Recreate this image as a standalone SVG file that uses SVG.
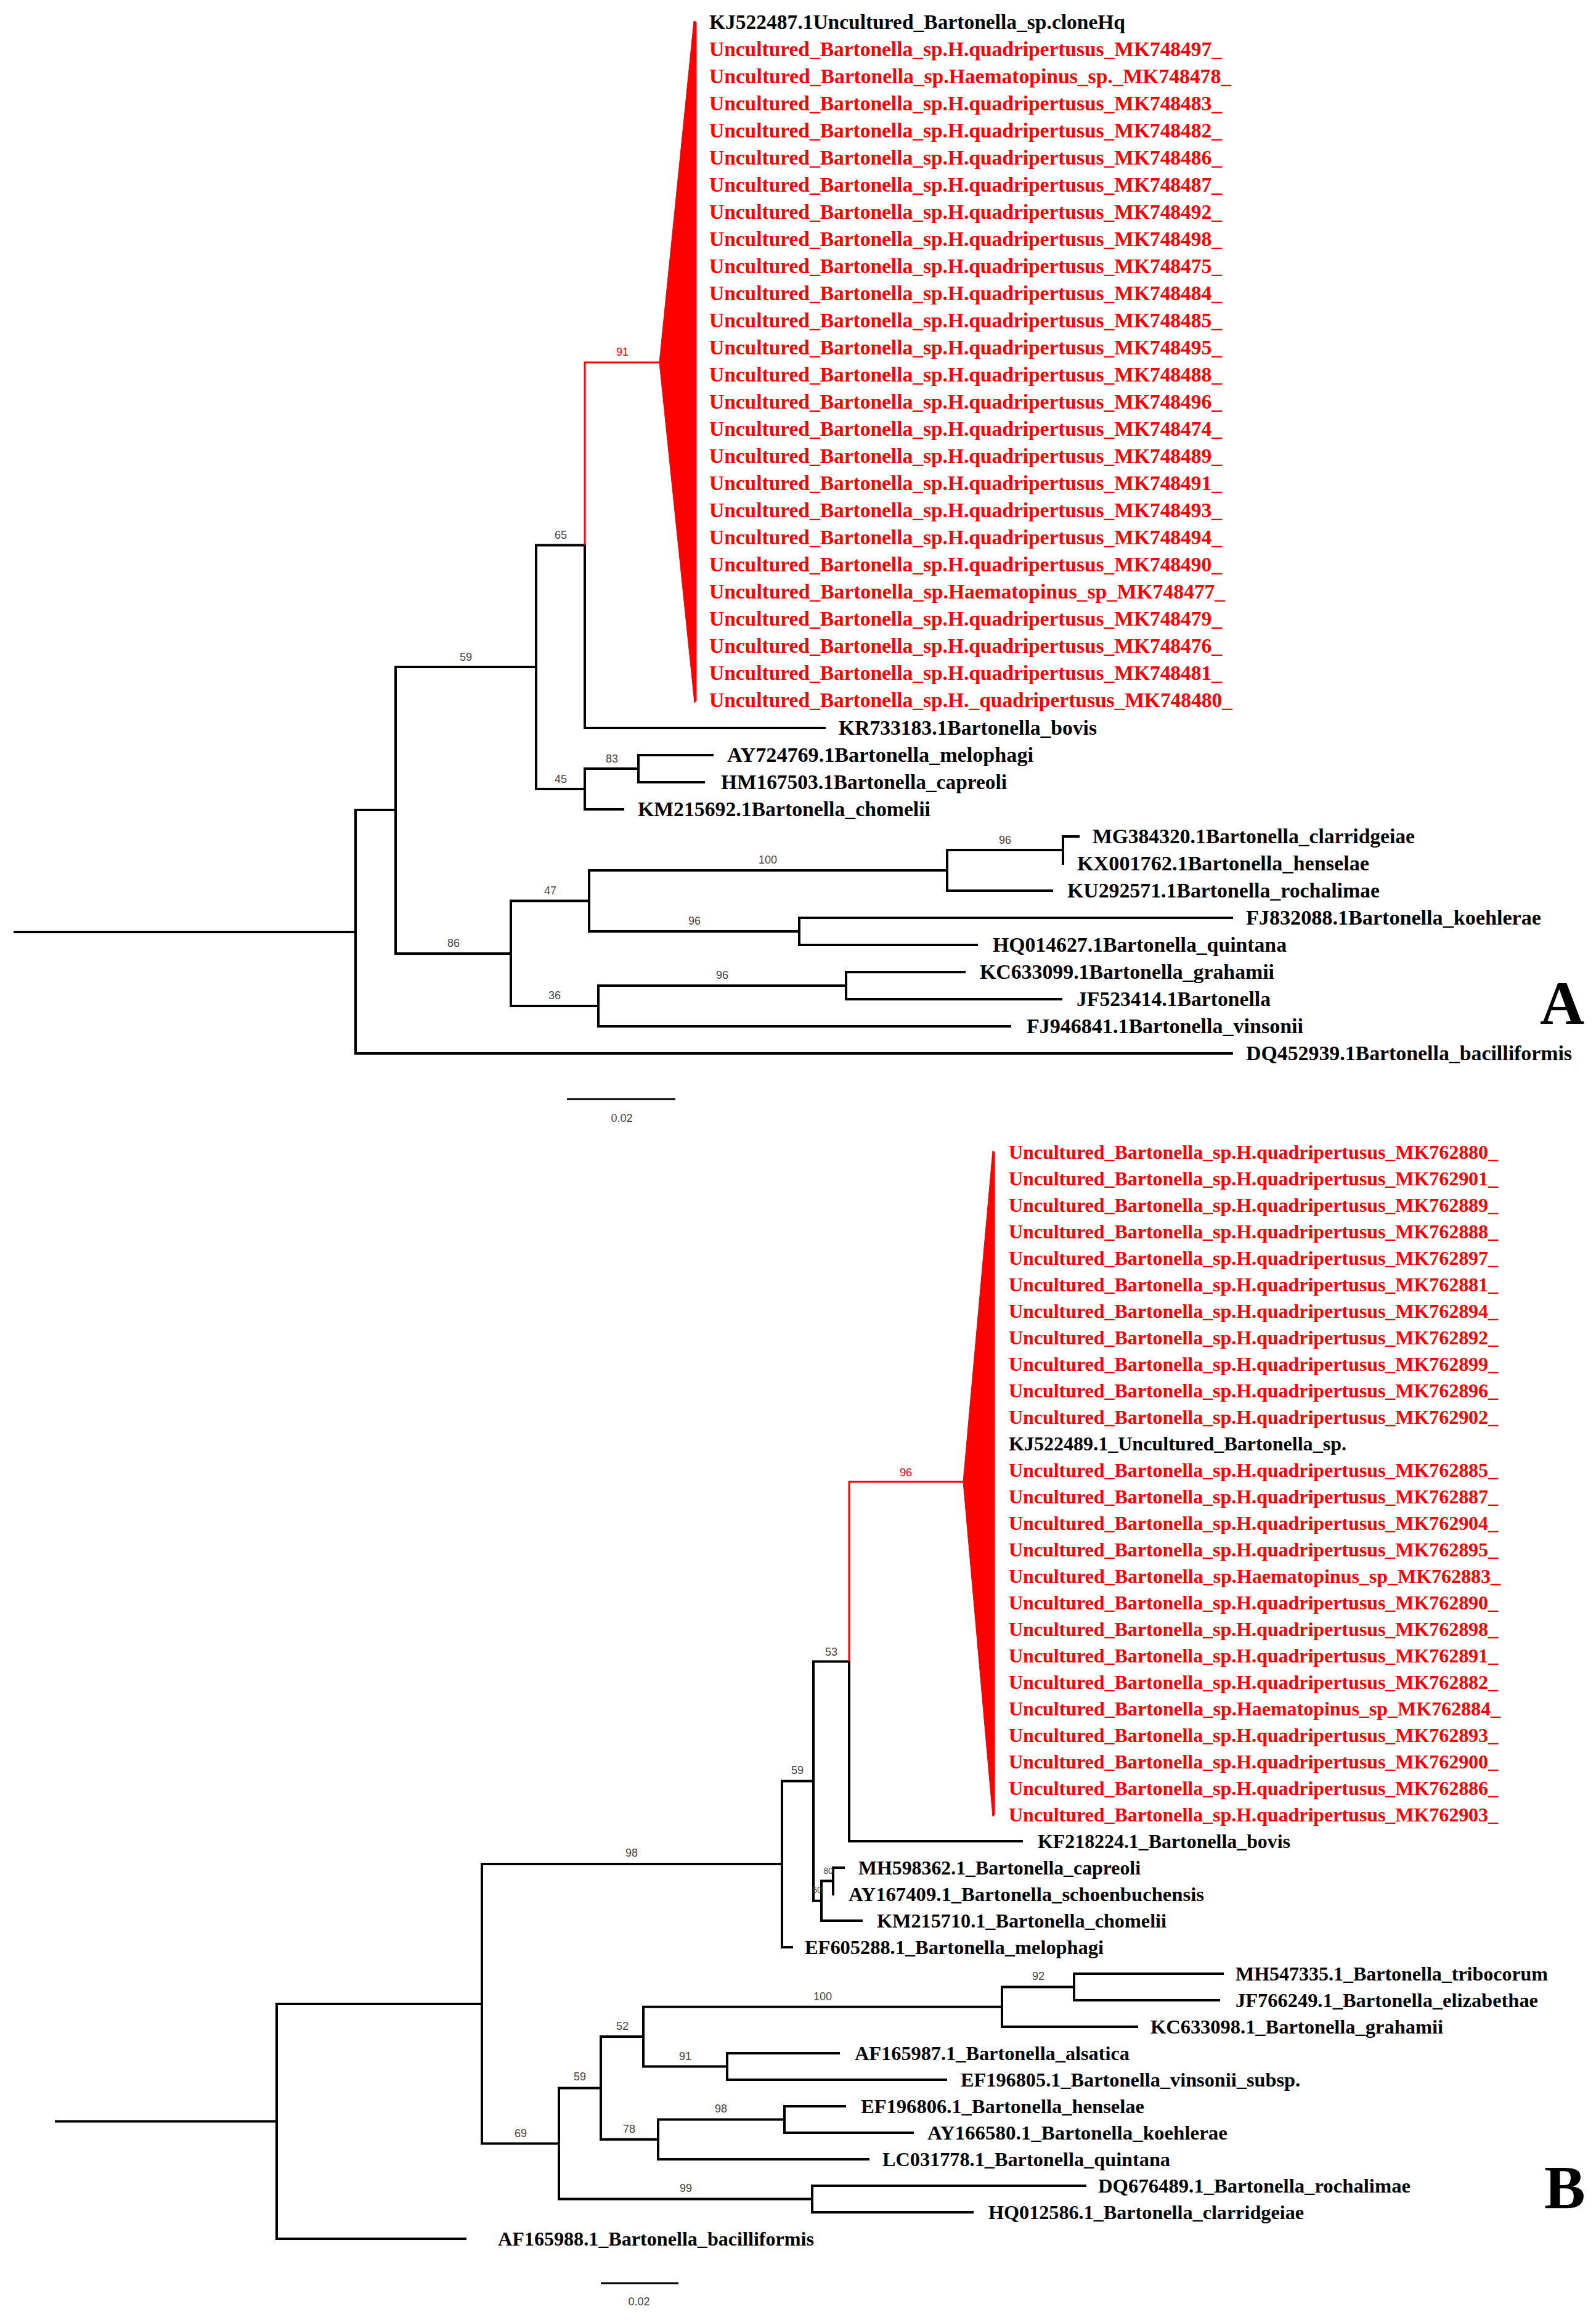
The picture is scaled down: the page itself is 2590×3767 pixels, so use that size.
<svg xmlns="http://www.w3.org/2000/svg" width="2590" height="3767" viewBox="0 0 2590 3767">
<style>
.br{fill:none;stroke:#000;stroke-width:4;stroke-linecap:square}
.brr{fill:none;stroke:#f00;stroke-width:3;stroke-linecap:square}
.tri{fill:#f00;stroke:#f00;stroke-width:1}
.tip{font-family:"Liberation Serif","Times New Roman",serif;font-weight:bold;fill:#000}
.ta{font-size:33px}
.tb{font-size:32px}
.red{fill:#f00}
.bs{font-family:"Liberation Sans",Arial,sans-serif;font-size:18px;fill:#444;text-anchor:middle}
.bsr{fill:#f00}
.sm{font-size:14px}
.panel{font-family:"Liberation Serif","Times New Roman",serif;font-weight:bold;font-size:100px;fill:#000}
.sb{fill:none;stroke:#000;stroke-width:3}
</style>
<rect width="2590" height="3767" fill="#fff"/>

<g id="connectors">
<g id="treeA-branches">
<path class="br" d="M24 1512H577 M577 1314V1709 M577 1709H1999 M577 1314H642 M642 1082V1547 M642 1082H870 M870 884.5V1280 M870 884.5H949 M949 884.5V1181 M949 1181H1338 M870 1280H949 M949 1247V1313 M949 1247H1036 M1036 1225V1269 M1036 1225H1156 M1036 1269H1142 M949 1313H1011 M642 1547H829 M829 1461.5V1632 M829 1461.5H956 M956 1412V1511 M956 1412H1537 M1537 1379V1445 M1537 1379H1725 M1725 1357V1401 M1725 1357H1750 M1537 1445H1707 M956 1511H1297 M1297 1489V1533 M1297 1489H1999 M1297 1533H1585 M829 1632H971 M971 1599V1665 M971 1599H1373 M1373 1577V1621 M1373 1577H1565 M1373 1621H1722 M971 1665H1639"/>
<path class="brr" d="M949 588V883 M949 588H1070"/>
<polygon class="tri" points="1070,588 1126,34 1130,36 1130,1137 1127,1140"/>
</g>
<g id="treeB-branches">
<path class="br" d="M91 3441.5H449 M449 3251V3632 M449 3632H755 M449 3251H782 M782 3024V3477.5 M782 3024H1269 M1269 2889.6V3159 M1269 3159H1285 M1269 2889.6H1320 M1320 2695.5V3083.75 M1320 2695.5H1378 M1378 2695.5V2987 M1378 2987H1658 M1320 3083.75H1333 M1333 3051.5V3116 M1333 3051.5H1352 M1352 3030V3073 M1352 3030H1369 M1333 3116H1398 M782 3477.5H907 M907 3387.4V3567.5 M907 3387.4H975 M975 3304V3470.75 M975 3304H1044 M1044 3255.75V3352.5 M1044 3255.75H1626 M1626 3223.5V3288 M1626 3223.5H1743 M1743 3202V3245 M1743 3202H1984 M1743 3245H1978 M1626 3288H1845 M1044 3352.5H1180 M1180 3331V3374 M1180 3331H1361 M1180 3374H1535 M975 3470.75H1068 M1068 3438.5V3503 M1068 3438.5H1273 M1273 3417V3460 M1273 3417H1371 M1273 3460H1481 M1068 3503H1409 M907 3567.5H1318 M1318 3546V3589 M1318 3546H1761 M1318 3589H1578"/>
<path class="brr" d="M1378 2404V2694 M1378 2404H1563"/>
<polygon class="tri" points="1563,2404 1611,1867 1614,1869 1614,2944 1611,2947"/>
</g>
</g>

<g id="treeA-tips">
<g id="A-clade-labels">
<text class="tip ta" x="1151" y="47" textLength="675" lengthAdjust="spacingAndGlyphs">KJ522487.1Uncultured_Bartonella_sp.cloneHq</text>
<text class="tip ta red" x="1151" y="91" textLength="832" lengthAdjust="spacingAndGlyphs">Uncultured_Bartonella_sp.H.quadripertusus_MK748497_</text>
<text class="tip ta red" x="1151" y="135" textLength="847" lengthAdjust="spacingAndGlyphs">Uncultured_Bartonella_sp.Haematopinus_sp._MK748478_</text>
<text class="tip ta red" x="1151" y="179" textLength="832" lengthAdjust="spacingAndGlyphs">Uncultured_Bartonella_sp.H.quadripertusus_MK748483_</text>
<text class="tip ta red" x="1151" y="223" textLength="832" lengthAdjust="spacingAndGlyphs">Uncultured_Bartonella_sp.H.quadripertusus_MK748482_</text>
<text class="tip ta red" x="1151" y="267" textLength="832" lengthAdjust="spacingAndGlyphs">Uncultured_Bartonella_sp.H.quadripertusus_MK748486_</text>
<text class="tip ta red" x="1151" y="311" textLength="832" lengthAdjust="spacingAndGlyphs">Uncultured_Bartonella_sp.H.quadripertusus_MK748487_</text>
<text class="tip ta red" x="1151" y="355" textLength="832" lengthAdjust="spacingAndGlyphs">Uncultured_Bartonella_sp.H.quadripertusus_MK748492_</text>
<text class="tip ta red" x="1151" y="399" textLength="832" lengthAdjust="spacingAndGlyphs">Uncultured_Bartonella_sp.H.quadripertusus_MK748498_</text>
<text class="tip ta red" x="1151" y="443" textLength="832" lengthAdjust="spacingAndGlyphs">Uncultured_Bartonella_sp.H.quadripertusus_MK748475_</text>
<text class="tip ta red" x="1151" y="487" textLength="832" lengthAdjust="spacingAndGlyphs">Uncultured_Bartonella_sp.H.quadripertusus_MK748484_</text>
<text class="tip ta red" x="1151" y="531" textLength="832" lengthAdjust="spacingAndGlyphs">Uncultured_Bartonella_sp.H.quadripertusus_MK748485_</text>
<text class="tip ta red" x="1151" y="575" textLength="832" lengthAdjust="spacingAndGlyphs">Uncultured_Bartonella_sp.H.quadripertusus_MK748495_</text>
<text class="tip ta red" x="1151" y="619" textLength="832" lengthAdjust="spacingAndGlyphs">Uncultured_Bartonella_sp.H.quadripertusus_MK748488_</text>
<text class="tip ta red" x="1151" y="663" textLength="832" lengthAdjust="spacingAndGlyphs">Uncultured_Bartonella_sp.H.quadripertusus_MK748496_</text>
<text class="tip ta red" x="1151" y="707" textLength="832" lengthAdjust="spacingAndGlyphs">Uncultured_Bartonella_sp.H.quadripertusus_MK748474_</text>
<text class="tip ta red" x="1151" y="751" textLength="832" lengthAdjust="spacingAndGlyphs">Uncultured_Bartonella_sp.H.quadripertusus_MK748489_</text>
<text class="tip ta red" x="1151" y="795" textLength="832" lengthAdjust="spacingAndGlyphs">Uncultured_Bartonella_sp.H.quadripertusus_MK748491_</text>
<text class="tip ta red" x="1151" y="839" textLength="832" lengthAdjust="spacingAndGlyphs">Uncultured_Bartonella_sp.H.quadripertusus_MK748493_</text>
<text class="tip ta red" x="1151" y="883" textLength="832" lengthAdjust="spacingAndGlyphs">Uncultured_Bartonella_sp.H.quadripertusus_MK748494_</text>
<text class="tip ta red" x="1151" y="927" textLength="832" lengthAdjust="spacingAndGlyphs">Uncultured_Bartonella_sp.H.quadripertusus_MK748490_</text>
<text class="tip ta red" x="1151" y="971" textLength="837" lengthAdjust="spacingAndGlyphs">Uncultured_Bartonella_sp.Haematopinus_sp_MK748477_</text>
<text class="tip ta red" x="1151" y="1015" textLength="832" lengthAdjust="spacingAndGlyphs">Uncultured_Bartonella_sp.H.quadripertusus_MK748479_</text>
<text class="tip ta red" x="1151" y="1059" textLength="832" lengthAdjust="spacingAndGlyphs">Uncultured_Bartonella_sp.H.quadripertusus_MK748476_</text>
<text class="tip ta red" x="1151" y="1103" textLength="832" lengthAdjust="spacingAndGlyphs">Uncultured_Bartonella_sp.H.quadripertusus_MK748481_</text>
<text class="tip ta red" x="1151" y="1147" textLength="849" lengthAdjust="spacingAndGlyphs">Uncultured_Bartonella_sp.H._quadripertusus_MK748480_</text>
</g>
<text id="A-bovis" class="tip ta" x="1361" y="1192" textLength="419" lengthAdjust="spacingAndGlyphs">KR733183.1Bartonella_bovis</text>
<text id="A-melophagi" class="tip ta" x="1180" y="1236" textLength="497" lengthAdjust="spacingAndGlyphs">AY724769.1Bartonella_melophagi</text>
<text id="A-capreoli" class="tip ta" x="1170" y="1280" textLength="464" lengthAdjust="spacingAndGlyphs">HM167503.1Bartonella_capreoli</text>
<text id="A-chomelii" class="tip ta" x="1035" y="1324" textLength="475" lengthAdjust="spacingAndGlyphs">KM215692.1Bartonella_chomelii</text>
<text id="A-clarridgeiae" class="tip ta" x="1773" y="1368" textLength="523" lengthAdjust="spacingAndGlyphs">MG384320.1Bartonella_clarridgeiae</text>
<text id="A-henselae" class="tip ta" x="1748" y="1412" textLength="474" lengthAdjust="spacingAndGlyphs">KX001762.1Bartonella_henselae</text>
<text id="A-rochalimae" class="tip ta" x="1732" y="1456" textLength="507" lengthAdjust="spacingAndGlyphs">KU292571.1Bartonella_rochalimae</text>
<text id="A-koehlerae" class="tip ta" x="2022" y="1500" textLength="479" lengthAdjust="spacingAndGlyphs">FJ832088.1Bartonella_koehlerae</text>
<text id="A-quintana" class="tip ta" x="1611" y="1544" textLength="477" lengthAdjust="spacingAndGlyphs">HQ014627.1Bartonella_quintana</text>
<text id="A-grahamii" class="tip ta" x="1590" y="1588" textLength="478" lengthAdjust="spacingAndGlyphs">KC633099.1Bartonella_grahamii</text>
<text id="A-JF523414" class="tip ta" x="1747" y="1632" textLength="315" lengthAdjust="spacingAndGlyphs">JF523414.1Bartonella</text>
<text id="A-vinsonii" class="tip ta" x="1666" y="1676" textLength="449" lengthAdjust="spacingAndGlyphs">FJ946841.1Bartonella_vinsonii</text>
<text id="A-bacilliformis" class="tip ta" x="2022" y="1720" textLength="529" lengthAdjust="spacingAndGlyphs">DQ452939.1Bartonella_bacilliformis</text>
</g>

<g id="treeA-support">
<text class="bs bsr" x="1010" y="577">91</text>
<text class="bs" x="910" y="874">65</text>
<text class="bs" x="756" y="1072">59</text>
<text class="bs" x="993" y="1237">83</text>
<text class="bs" x="910" y="1270">45</text>
<text class="bs" x="1631" y="1369">96</text>
<text class="bs" x="1246" y="1401">100</text>
<text class="bs" x="893" y="1451">47</text>
<text class="bs" x="1127" y="1500">96</text>
<text class="bs" x="736" y="1536">86</text>
<text class="bs" x="1172" y="1588">96</text>
<text class="bs" x="900" y="1621">36</text>
</g>

<g id="treeA-scale">
<line class="sb" x1="920" y1="1783" x2="1096" y2="1783"/>
<text class="bs" x="1009" y="1820">0.02</text>
</g>
<text id="panel-A" class="panel" x="2499" y="1661">A</text>

<g id="treeB-tips">
<g id="B-clade-labels">
<text class="tip tb red" x="1637" y="1880" textLength="794" lengthAdjust="spacingAndGlyphs">Uncultured_Bartonella_sp.H.quadripertusus_MK762880_</text>
<text class="tip tb red" x="1637" y="1923" textLength="794" lengthAdjust="spacingAndGlyphs">Uncultured_Bartonella_sp.H.quadripertusus_MK762901_</text>
<text class="tip tb red" x="1637" y="1966" textLength="794" lengthAdjust="spacingAndGlyphs">Uncultured_Bartonella_sp.H.quadripertusus_MK762889_</text>
<text class="tip tb red" x="1637" y="2009" textLength="794" lengthAdjust="spacingAndGlyphs">Uncultured_Bartonella_sp.H.quadripertusus_MK762888_</text>
<text class="tip tb red" x="1637" y="2052" textLength="794" lengthAdjust="spacingAndGlyphs">Uncultured_Bartonella_sp.H.quadripertusus_MK762897_</text>
<text class="tip tb red" x="1637" y="2095" textLength="794" lengthAdjust="spacingAndGlyphs">Uncultured_Bartonella_sp.H.quadripertusus_MK762881_</text>
<text class="tip tb red" x="1637" y="2138" textLength="794" lengthAdjust="spacingAndGlyphs">Uncultured_Bartonella_sp.H.quadripertusus_MK762894_</text>
<text class="tip tb red" x="1637" y="2181" textLength="794" lengthAdjust="spacingAndGlyphs">Uncultured_Bartonella_sp.H.quadripertusus_MK762892_</text>
<text class="tip tb red" x="1637" y="2224" textLength="794" lengthAdjust="spacingAndGlyphs">Uncultured_Bartonella_sp.H.quadripertusus_MK762899_</text>
<text class="tip tb red" x="1637" y="2267" textLength="794" lengthAdjust="spacingAndGlyphs">Uncultured_Bartonella_sp.H.quadripertusus_MK762896_</text>
<text class="tip tb red" x="1637" y="2310" textLength="794" lengthAdjust="spacingAndGlyphs">Uncultured_Bartonella_sp.H.quadripertusus_MK762902_</text>
<text class="tip tb" x="1637" y="2353" textLength="548" lengthAdjust="spacingAndGlyphs">KJ522489.1_Uncultured_Bartonella_sp.</text>
<text class="tip tb red" x="1637" y="2396" textLength="794" lengthAdjust="spacingAndGlyphs">Uncultured_Bartonella_sp.H.quadripertusus_MK762885_</text>
<text class="tip tb red" x="1637" y="2439" textLength="794" lengthAdjust="spacingAndGlyphs">Uncultured_Bartonella_sp.H.quadripertusus_MK762887_</text>
<text class="tip tb red" x="1637" y="2482" textLength="794" lengthAdjust="spacingAndGlyphs">Uncultured_Bartonella_sp.H.quadripertusus_MK762904_</text>
<text class="tip tb red" x="1637" y="2525" textLength="794" lengthAdjust="spacingAndGlyphs">Uncultured_Bartonella_sp.H.quadripertusus_MK762895_</text>
<text class="tip tb red" x="1637" y="2568" textLength="798" lengthAdjust="spacingAndGlyphs">Uncultured_Bartonella_sp.Haematopinus_sp_MK762883_</text>
<text class="tip tb red" x="1637" y="2611" textLength="794" lengthAdjust="spacingAndGlyphs">Uncultured_Bartonella_sp.H.quadripertusus_MK762890_</text>
<text class="tip tb red" x="1637" y="2654" textLength="794" lengthAdjust="spacingAndGlyphs">Uncultured_Bartonella_sp.H.quadripertusus_MK762898_</text>
<text class="tip tb red" x="1637" y="2697" textLength="794" lengthAdjust="spacingAndGlyphs">Uncultured_Bartonella_sp.H.quadripertusus_MK762891_</text>
<text class="tip tb red" x="1637" y="2740" textLength="794" lengthAdjust="spacingAndGlyphs">Uncultured_Bartonella_sp.H.quadripertusus_MK762882_</text>
<text class="tip tb red" x="1637" y="2783" textLength="798" lengthAdjust="spacingAndGlyphs">Uncultured_Bartonella_sp.Haematopinus_sp_MK762884_</text>
<text class="tip tb red" x="1637" y="2826" textLength="794" lengthAdjust="spacingAndGlyphs">Uncultured_Bartonella_sp.H.quadripertusus_MK762893_</text>
<text class="tip tb red" x="1637" y="2869" textLength="794" lengthAdjust="spacingAndGlyphs">Uncultured_Bartonella_sp.H.quadripertusus_MK762900_</text>
<text class="tip tb red" x="1637" y="2912" textLength="794" lengthAdjust="spacingAndGlyphs">Uncultured_Bartonella_sp.H.quadripertusus_MK762886_</text>
<text class="tip tb red" x="1637" y="2955" textLength="794" lengthAdjust="spacingAndGlyphs">Uncultured_Bartonella_sp.H.quadripertusus_MK762903_</text>
</g>
<text id="B-bovis" class="tip tb" x="1684" y="2998" textLength="410" lengthAdjust="spacingAndGlyphs">KF218224.1_Bartonella_bovis</text>
<text id="B-capreoli" class="tip tb" x="1393" y="3041" textLength="458" lengthAdjust="spacingAndGlyphs">MH598362.1_Bartonella_capreoli</text>
<text id="B-schoenbuchensis" class="tip tb" x="1377" y="3084" textLength="577" lengthAdjust="spacingAndGlyphs">AY167409.1_Bartonella_schoenbuchensis</text>
<text id="B-chomelii" class="tip tb" x="1423" y="3127" textLength="470" lengthAdjust="spacingAndGlyphs">KM215710.1_Bartonella_chomelii</text>
<text id="B-melophagi" class="tip tb" x="1306" y="3170" textLength="485" lengthAdjust="spacingAndGlyphs">EF605288.1_Bartonella_melophagi</text>
<text id="B-tribocorum" class="tip tb" x="2005" y="3213" textLength="507" lengthAdjust="spacingAndGlyphs">MH547335.1_Bartonella_tribocorum</text>
<text id="B-elizabethae" class="tip tb" x="2005" y="3256" textLength="491" lengthAdjust="spacingAndGlyphs">JF766249.1_Bartonella_elizabethae</text>
<text id="B-grahamii" class="tip tb" x="1867" y="3299" textLength="475" lengthAdjust="spacingAndGlyphs">KC633098.1_Bartonella_grahamii</text>
<text id="B-alsatica" class="tip tb" x="1387" y="3342" textLength="446" lengthAdjust="spacingAndGlyphs">AF165987.1_Bartonella_alsatica</text>
<text id="B-vinsonii" class="tip tb" x="1559" y="3385" textLength="551" lengthAdjust="spacingAndGlyphs">EF196805.1_Bartonella_vinsonii_subsp.</text>
<text id="B-henselae" class="tip tb" x="1397" y="3428" textLength="460" lengthAdjust="spacingAndGlyphs">EF196806.1_Bartonella_henselae</text>
<text id="B-koehlerae" class="tip tb" x="1505" y="3471" textLength="487" lengthAdjust="spacingAndGlyphs">AY166580.1_Bartonella_koehlerae</text>
<text id="B-quintana" class="tip tb" x="1432" y="3514" textLength="467" lengthAdjust="spacingAndGlyphs">LC031778.1_Bartonella_quintana</text>
<text id="B-rochalimae" class="tip tb" x="1782" y="3557" textLength="507" lengthAdjust="spacingAndGlyphs">DQ676489.1_Bartonella_rochalimae</text>
<text id="B-clarridgeiae" class="tip tb" x="1604" y="3600" textLength="512" lengthAdjust="spacingAndGlyphs">HQ012586.1_Bartonella_clarridgeiae</text>
<text id="B-bacilliformis" class="tip tb" x="808" y="3643" textLength="513" lengthAdjust="spacingAndGlyphs">AF165988.1_Bartonella_bacilliformis</text>
</g>

<g id="treeB-support">
<text class="bs bsr" x="1470" y="2395">96</text>
<text class="bs" x="1349" y="2686">53</text>
<text class="bs" x="1294" y="2878">59</text>
<text class="bs" x="1025" y="3012">98</text>
<text class="bs sm" x="1344" y="3040">80</text>
<text class="bs sm" x="1326" y="3071">50</text>
<text class="bs" x="1685" y="3212">92</text>
<text class="bs" x="1335" y="3245">100</text>
<text class="bs" x="1010" y="3293">52</text>
<text class="bs" x="1112" y="3342">91</text>
<text class="bs" x="941" y="3375">59</text>
<text class="bs" x="1170" y="3427">98</text>
<text class="bs" x="1021" y="3460">78</text>
<text class="bs" x="845" y="3467">69</text>
<text class="bs" x="1113" y="3556">99</text>
</g>

<g id="treeB-scale">
<line class="sb" x1="975" y1="3704" x2="1101" y2="3704"/>
<text class="bs" x="1037" y="3740">0.02</text>
</g>
<text id="panel-B" class="panel" x="2506" y="3582">B</text>
</svg>
